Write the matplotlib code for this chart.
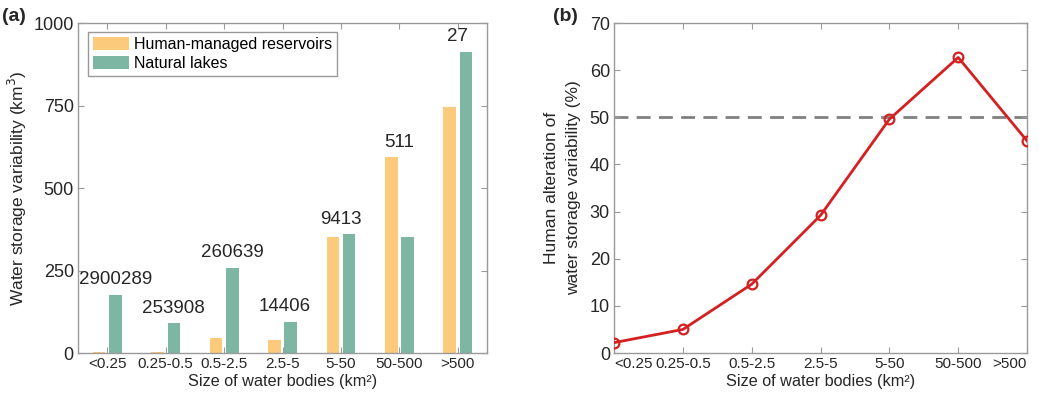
import numpy as np
import matplotlib.pyplot as plt
from matplotlib.patches import Patch

plt.rcParams['font.family'] = ['Liberation Sans', 'DejaVu Sans']

# data
size_classes = ['<0.25', '0.25-0.5', '0.5-2.5', '2.5-5', '5-50', '50-500', '>500']
reservoirs = [2, 3, 44, 38, 351, 593, 746]
lakes = [176, 90, 258, 94, 360, 352, 913]
counts = ['2900289', '253908', '260639', '14406', '9413', '511', '27']
alteration = [2.2, 5.0, 14.6, 29.2, 49.6, 62.7, 45.0]

orange = '#FBCB7B'
green = '#7DB6A3'
box_col = '#9a9a9a'
txt_col = '#262626'

fig = plt.figure(figsize=(10.39, 3.95), dpi=100)
ax1 = fig.add_axes([0.0751, 0.1063, 0.3937, 0.8354])
ax2 = fig.add_axes([0.5910, 0.1063, 0.3975, 0.8354])

# ---- panel (a): grouped bars
x = np.arange(1, len(size_classes) + 1)
w = 0.215
off = 0.14
ax1.bar(x - off, reservoirs, w, color=orange, label='Human-managed reservoirs')
ax1.bar(x + off, lakes, w, color=green, label='Natural lakes')

label_shift = [0.14, 0.14, 0.14, 0.04, 0.0, 0.0, 0.0]
for xi, r, l, c, s in zip(x, reservoirs, lakes, counts, label_shift):
    ax1.text(xi + s, max(r, l) + 20, c, ha='center', va='bottom',
             fontsize=13.5, color=txt_col)

ax1.set_xlim(0.5, 7.5)
ax1.set_ylim(0, 1000)
ax1.set_xticks(x)
ax1.set_xticklabels(size_classes, fontsize=11)
ax1.set_yticks([0, 250, 500, 750, 1000])
ax1.tick_params(axis='y', labelsize=13)
ax1.set_ylabel('Water storage variability (km$^3$)', fontsize=12.5, color=txt_col,
               labelpad=3)
ax1.set_xlabel('Size of water bodies (km²)', fontsize=11.7, color=txt_col, labelpad=2)

handles = [Patch(facecolor=orange, edgecolor='none'), Patch(facecolor=green, edgecolor='none')]
leg = ax1.legend(handles, ['Human-managed reservoirs', 'Natural lakes'],
                 loc='upper left', bbox_to_anchor=(0.024, 0.973), borderaxespad=0,
                 fontsize=11.5, fancybox=False, framealpha=1, edgecolor=box_col,
                 handlelength=2.3, handleheight=0.9, handletextpad=0.3,
                 labelspacing=0.25, borderpad=0.3)
leg.get_frame().set_linewidth(1.0)

# ---- panel (b): line
ax2.axhline(50, color='#808080', lw=2, ls=(0, (5, 3)), zorder=1)
ax2.plot(x, alteration, color='#D42020', lw=2, marker='o', markersize=7,
         markerfacecolor='none', markeredgewidth=1.6, zorder=3)
ax2.set_xlim(1, 7)
ax2.set_ylim(0, 70)
ax2.set_xticks(x)
ax2.set_xticklabels(size_classes, fontsize=11)
xt = ax2.get_xticklabels()
xt[0].set_ha('left')
xt[-1].set_ha('right')
ax2.set_yticks(np.arange(0, 71, 10))
ax2.tick_params(axis='y', labelsize=13)
ax2.set_ylabel('Human alteration of\nwater storage variability (%)', fontsize=12.5,
               color=txt_col, labelpad=6, linespacing=1.6)
ax2.set_xlabel('Size of water bodies (km²)', fontsize=11.7, color=txt_col, labelpad=2)

for ax in (ax1, ax2):
    for sp in ax.spines.values():
        sp.set_color(box_col)
        sp.set_linewidth(1.0)
    ax.tick_params(direction='in', top=True, right=True, length=4,
                   color=box_col, labelcolor=txt_col, pad=3)

fig.text(0.002, 0.948, '(a)', fontsize=14, fontweight='bold', color=txt_col)
fig.text(0.532, 0.948, '(b)', fontsize=14, fontweight='bold', color=txt_col)

fig.savefig('out.png', dpi=100)
